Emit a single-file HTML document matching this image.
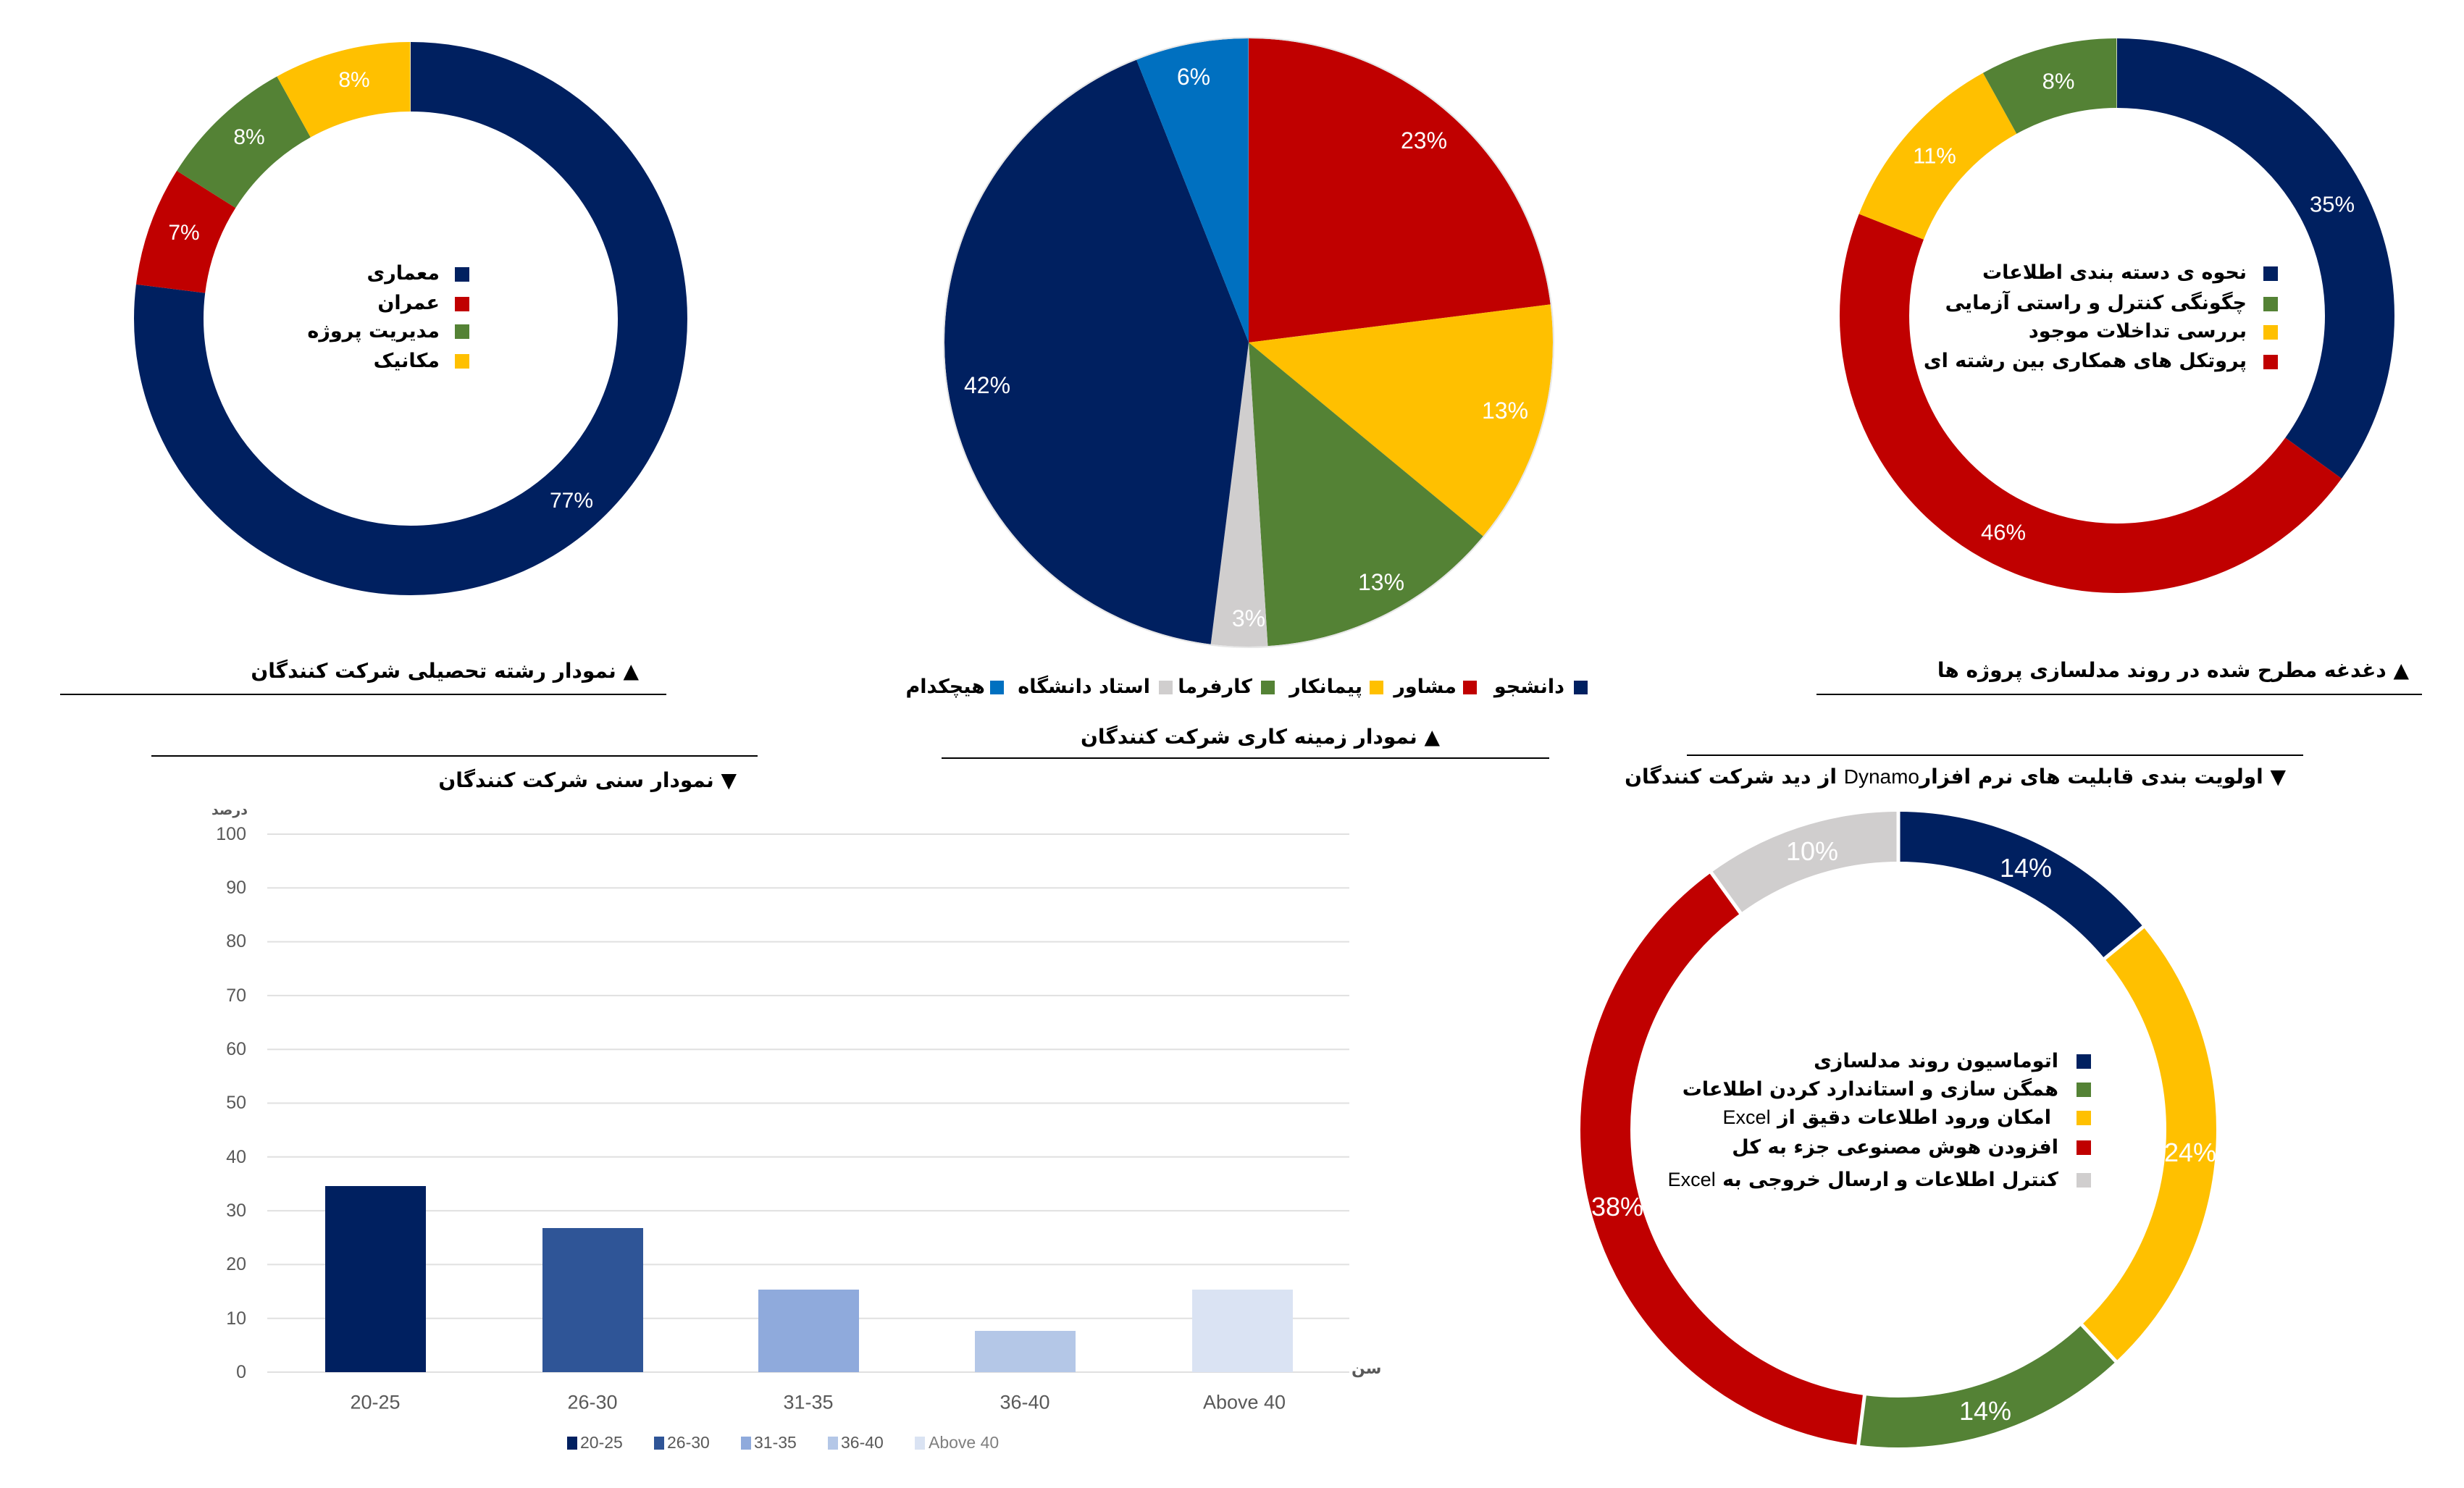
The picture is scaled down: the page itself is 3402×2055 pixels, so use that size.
<!DOCTYPE html>
<html><head><meta charset="utf-8">
<style>
html,body{margin:0;padding:0;background:#fff;}
#c{position:relative;width:3402px;height:2055px;overflow:hidden;background:#fff;}
svg{position:absolute;left:0;top:0;}
.t{position:absolute;white-space:nowrap;font-family:"DejaVu Sans","Liberation Sans",sans-serif;}
.fa{direction:rtl;font-weight:bold;color:#000;font-size:27px;line-height:1;}
.lab{color:#fff;font-family:"Liberation Sans",sans-serif;transform:translate(-50%,-50%);line-height:1;}
.tick{color:#595959;font-family:"Liberation Sans",sans-serif;font-size:25px;line-height:1;}
</style></head><body><div id="c">
<svg width="3402" height="2055" viewBox="0 0 3402 2055">
 <!-- Chart1 donut -->
 <g transform="rotate(-90 567 440)" fill="none" stroke-width="96">
  <circle cx="567" cy="440" r="334" pathLength="100" stroke="#002060" stroke-dasharray="77 100" stroke-dashoffset="0"/>
  <circle cx="567" cy="440" r="334" pathLength="100" stroke="#c00000" stroke-dasharray="7 100" stroke-dashoffset="-77"/>
  <circle cx="567" cy="440" r="334" pathLength="100" stroke="#548235" stroke-dasharray="8 100" stroke-dashoffset="-84"/>
  <circle cx="567" cy="440" r="334" pathLength="100" stroke="#ffc000" stroke-dasharray="8 100" stroke-dashoffset="-92"/>
 </g>
 <rect x="628" y="369" width="20" height="20" fill="#002060"/>
 <rect x="628" y="410" width="20" height="20" fill="#c00000"/>
 <rect x="628" y="448" width="20" height="20" fill="#548235"/>
 <rect x="628" y="489" width="20" height="20" fill="#ffc000"/>
 <line x1="83" y1="959" x2="920" y2="959" stroke="#000" stroke-width="2"/>

 <!-- Chart2 pie -->
 <g transform="rotate(-90 1724 473)" fill="none" stroke-width="420">
  <circle cx="1724" cy="473" r="210" pathLength="100" stroke="#c00000" stroke-dasharray="23 100" stroke-dashoffset="0"/>
  <circle cx="1724" cy="473" r="210" pathLength="100" stroke="#ffc000" stroke-dasharray="13 100" stroke-dashoffset="-23"/>
  <circle cx="1724" cy="473" r="210" pathLength="100" stroke="#548235" stroke-dasharray="13 100" stroke-dashoffset="-36"/>
  <circle cx="1724" cy="473" r="210" pathLength="100" stroke="#d0cece" stroke-dasharray="3 100" stroke-dashoffset="-49"/>
  <circle cx="1724" cy="473" r="210" pathLength="100" stroke="#002060" stroke-dasharray="42 100" stroke-dashoffset="-52"/>
  <circle cx="1724" cy="473" r="210" pathLength="100" stroke="#0070c0" stroke-dasharray="6 100" stroke-dashoffset="-94"/>
 </g>
 <circle cx="1724" cy="473" r="421" fill="none" stroke="#e6e6e6" stroke-width="2"/>
 <rect x="2173" y="940" width="19" height="19" fill="#002060"/>
 <rect x="2020" y="940" width="19" height="19" fill="#c00000"/>
 <rect x="1891" y="940" width="19" height="19" fill="#ffc000"/>
 <rect x="1741" y="940" width="19" height="19" fill="#548235"/>
 <rect x="1600" y="940" width="19" height="19" fill="#d0cece"/>
 <rect x="1367" y="940" width="19" height="19" fill="#0070c0"/>
 <line x1="1300" y1="1047" x2="2139" y2="1047" stroke="#000" stroke-width="2"/>

 <!-- Chart3 donut -->
 <g transform="rotate(-90 2923 436)" fill="none" stroke-width="96">
  <circle cx="2923" cy="436" r="335" pathLength="100" stroke="#002060" stroke-dasharray="35 100" stroke-dashoffset="0"/>
  <circle cx="2923" cy="436" r="335" pathLength="100" stroke="#c00000" stroke-dasharray="46 100" stroke-dashoffset="-35"/>
  <circle cx="2923" cy="436" r="335" pathLength="100" stroke="#ffc000" stroke-dasharray="11 100" stroke-dashoffset="-81"/>
  <circle cx="2923" cy="436" r="335" pathLength="100" stroke="#548235" stroke-dasharray="8 100" stroke-dashoffset="-92"/>
 </g>
 <rect x="3125" y="368" width="20" height="20" fill="#002060"/>
 <rect x="3125" y="410" width="20" height="20" fill="#548235"/>
 <rect x="3125" y="449" width="20" height="20" fill="#ffc000"/>
 <rect x="3125" y="490" width="20" height="20" fill="#c00000"/>
 <line x1="2508" y1="959" x2="3344" y2="959" stroke="#000" stroke-width="2"/>

 <!-- Bar chart -->
 <line x1="209" y1="1044" x2="1046" y2="1044" stroke="#000" stroke-width="2"/>
 <g stroke="#e0e0e0" stroke-width="2">
  <line x1="369" x2="1863" y1="1152" y2="1152"/>
  <line x1="369" x2="1863" y1="1226.3" y2="1226.3"/>
  <line x1="369" x2="1863" y1="1300.6" y2="1300.6"/>
  <line x1="369" x2="1863" y1="1374.9" y2="1374.9"/>
  <line x1="369" x2="1863" y1="1449.2" y2="1449.2"/>
  <line x1="369" x2="1863" y1="1523.5" y2="1523.5"/>
  <line x1="369" x2="1863" y1="1597.8" y2="1597.8"/>
  <line x1="369" x2="1863" y1="1672.1" y2="1672.1"/>
  <line x1="369" x2="1863" y1="1746.4" y2="1746.4"/>
  <line x1="369" x2="1863" y1="1820.7" y2="1820.7"/>
  <line x1="369" x2="1863" y1="1895" y2="1895"/>
 </g>
 <rect x="449" y="1638" width="139" height="257" fill="#002060"/>
 <rect x="749" y="1696" width="139" height="199" fill="#2f5597"/>
 <rect x="1047" y="1781" width="139" height="114" fill="#8faadc"/>
 <rect x="1346" y="1838" width="139" height="57" fill="#b4c7e7"/>
 <rect x="1646" y="1781" width="139" height="114" fill="#dae3f3"/>
 <rect x="783" y="1984" width="14" height="18" fill="#002060"/>
 <rect x="903" y="1984" width="14" height="18" fill="#2f5597"/>
 <rect x="1023" y="1984" width="14" height="18" fill="#8faadc"/>
 <rect x="1143" y="1984" width="14" height="18" fill="#b4c7e7"/>
 <rect x="1263" y="1984" width="14" height="18" fill="#dae3f3"/>

 <!-- Chart5 donut -->
 <line x1="2329" y1="1043" x2="3180" y2="1043" stroke="#000" stroke-width="2"/>
 <g transform="rotate(-90 2621 1560)" fill="none" stroke-width="69">
  <circle cx="2621" cy="1560" r="404.5" pathLength="100" stroke="#002060" stroke-dasharray="14 100" stroke-dashoffset="0"/>
  <circle cx="2621" cy="1560" r="404.5" pathLength="100" stroke="#ffc000" stroke-dasharray="24 100" stroke-dashoffset="-14"/>
  <circle cx="2621" cy="1560" r="404.5" pathLength="100" stroke="#548235" stroke-dasharray="14 100" stroke-dashoffset="-38"/>
  <circle cx="2621" cy="1560" r="404.5" pathLength="100" stroke="#c00000" stroke-dasharray="38 100" stroke-dashoffset="-52"/>
  <circle cx="2621" cy="1560" r="404.5" pathLength="100" stroke="#d0cece" stroke-dasharray="10 100" stroke-dashoffset="-90"/>
 </g>
 <g stroke="#fff" stroke-width="5">
  <line x1="2621" y1="1195" x2="2621" y2="1115"/>
  <line x1="2902" y1="1327" x2="2964" y2="1276"/>
  <line x1="2871" y1="1826" x2="2925" y2="1884"/>
  <line x1="2575" y1="1922" x2="2565" y2="2001"/>
  <line x1="2406" y1="1265" x2="2359" y2="1200"/>
 </g>
 <rect x="2867" y="1456" width="20" height="20" fill="#002060"/>
 <rect x="2867" y="1495" width="20" height="20" fill="#548235"/>
 <rect x="2867" y="1534" width="20" height="20" fill="#ffc000"/>
 <rect x="2867" y="1575" width="20" height="20" fill="#c00000"/>
 <rect x="2867" y="1620" width="20" height="20" fill="#d0cece"/>
</svg>

<!-- Chart1 text -->
<div class="t fa" style="right:2795px;top:364px;">معماری</div>
<div class="t fa" style="right:2795px;top:405px;">عمران</div>
<div class="t fa" style="right:2795px;top:444px;">مدیریت پروژه</div>
<div class="t fa" style="right:2795px;top:485px;">مکانیک</div>
<div class="t lab" style="left:789px;top:692px;font-size:30px;">77%</div>
<div class="t lab" style="left:254px;top:322px;font-size:30px;">7%</div>
<div class="t lab" style="left:344px;top:190px;font-size:30px;">8%</div>
<div class="t lab" style="left:489px;top:111px;font-size:30px;">8%</div>
<div class="t fa" style="right:2520px;top:913px;font-size:28px;">▲ نمودار رشته تحصیلی شرکت کنندگان</div>

<!-- Chart2 text -->
<div class="t lab" style="left:1966px;top:194px;font-size:32px;">23%</div>
<div class="t lab" style="left:2078px;top:567px;font-size:32px;">13%</div>
<div class="t lab" style="left:1907px;top:804px;font-size:32px;">13%</div>
<div class="t lab" style="left:1724px;top:854px;font-size:32px;">3%</div>
<div class="t lab" style="left:1363px;top:532px;font-size:32px;">42%</div>
<div class="t lab" style="left:1648px;top:106px;font-size:32px;">6%</div>
<div class="t fa" style="right:1242px;top:935px;">دانشجو</div>
<div class="t fa" style="right:1391px;top:935px;">مشاور</div>
<div class="t fa" style="right:1521px;top:935px;">پیمانکار</div>
<div class="t fa" style="right:1673px;top:935px;">کارفرما</div>
<div class="t fa" style="right:1814px;top:935px;">استاد دانشگاه</div>
<div class="t fa" style="right:2042px;top:935px;">هیچکدام</div>
<div class="t fa" style="right:1414px;top:1004px;font-size:28px;">▲ نمودار زمینه کاری شرکت کنندگان</div>

<!-- Chart3 text -->
<div class="t fa" style="right:300px;top:363px;">نحوه ی دسته بندی اطلاعات</div>
<div class="t fa" style="right:300px;top:405px;">چگونگی کنترل و راستی آزمایی</div>
<div class="t fa" style="right:300px;top:444px;">بررسی تداخلات موجود</div>
<div class="t fa" style="right:300px;top:485px;">پروتکل های همکاری بین رشته ای</div>
<div class="t lab" style="left:3220px;top:282px;font-size:31px;">35%</div>
<div class="t lab" style="left:2766px;top:735px;font-size:31px;">46%</div>
<div class="t lab" style="left:2671px;top:215px;font-size:31px;">11%</div>
<div class="t lab" style="left:2842px;top:112px;font-size:31px;">8%</div>
<div class="t fa" style="right:76px;top:912px;font-size:28px;">▲ دغدغه مطرح شده در روند مدلسازی پروژه ها</div>

<!-- Bar chart text -->
<div class="t fa" style="right:2385px;top:1064px;font-size:28px;">▼ نمودار سنی شرکت کنندگان</div>
<div class="t" style="right:3060px;top:1108px;font-size:19px;color:#595959;direction:rtl;font-weight:bold;">درصد</div>
<div class="t tick" style="right:3062px;top:1140px;">100</div>
<div class="t tick" style="right:3062px;top:1214px;">90</div>
<div class="t tick" style="right:3062px;top:1288px;">80</div>
<div class="t tick" style="right:3062px;top:1363px;">70</div>
<div class="t tick" style="right:3062px;top:1437px;">60</div>
<div class="t tick" style="right:3062px;top:1511px;">50</div>
<div class="t tick" style="right:3062px;top:1586px;">40</div>
<div class="t tick" style="right:3062px;top:1660px;">30</div>
<div class="t tick" style="right:3062px;top:1734px;">20</div>
<div class="t tick" style="right:3062px;top:1809px;">10</div>
<div class="t tick" style="right:3062px;top:1883px;">0</div>
<div class="t" style="left:1866px;top:1878px;font-size:22px;color:#595959;direction:rtl;font-weight:bold;">سن</div>
<div class="t tick" style="left:518px;top:1937px;transform:translate(-50%,-50%);font-size:27px;">20-25</div>
<div class="t tick" style="left:818px;top:1937px;transform:translate(-50%,-50%);font-size:27px;">26-30</div>
<div class="t tick" style="left:1116px;top:1937px;transform:translate(-50%,-50%);font-size:27px;">31-35</div>
<div class="t tick" style="left:1415px;top:1937px;transform:translate(-50%,-50%);font-size:27px;">36-40</div>
<div class="t tick" style="left:1718px;top:1937px;transform:translate(-50%,-50%);font-size:27px;">Above 40</div>
<div class="t tick" style="left:801px;top:1981px;font-size:23px;">20-25</div>
<div class="t tick" style="left:921px;top:1981px;font-size:23px;">26-30</div>
<div class="t tick" style="left:1041px;top:1981px;font-size:23px;">31-35</div>
<div class="t tick" style="left:1161px;top:1981px;font-size:23px;">36-40</div>
<div class="t tick" style="left:1282px;top:1981px;font-size:23px;color:#7f7f7f;">Above 40</div>

<!-- Chart5 text -->
<div class="t fa" style="right:246px;top:1059px;font-size:28px;">▼ اولویت بندی قابلیت های نرم افزار<span style="font-family:'Liberation Sans';font-weight:normal;">Dynamo</span> از دید شرکت کنندگان</div>
<div class="t fa" style="right:560px;top:1452px;font-weight:bold;">اتوماسیون روند مدلسازی</div>
<div class="t fa" style="right:560px;top:1491px;">همگن سازی و استاندارد کردن اطلاعات</div>
<div class="t fa" style="right:570px;top:1530px;">امکان ورود اطلاعات دقیق از <span style="font-family:'Liberation Sans';font-weight:normal;">Excel</span></div>
<div class="t fa" style="right:560px;top:1571px;">افزودن هوش مصنوعی جزء به کل</div>
<div class="t fa" style="right:560px;top:1616px;">کنترل اطلاعات و ارسال خروجی به <span style="font-family:'Liberation Sans';font-weight:normal;">Excel</span></div>
<div class="t lab" style="left:2797px;top:1199px;font-size:36px;">14%</div>
<div class="t lab" style="left:3024px;top:1592px;font-size:36px;">24%</div>
<div class="t lab" style="left:2741px;top:1949px;font-size:36px;">14%</div>
<div class="t lab" style="left:2233px;top:1667px;font-size:36px;">38%</div>
<div class="t lab" style="left:2502px;top:1176px;font-size:36px;">10%</div>
</div></body></html>
